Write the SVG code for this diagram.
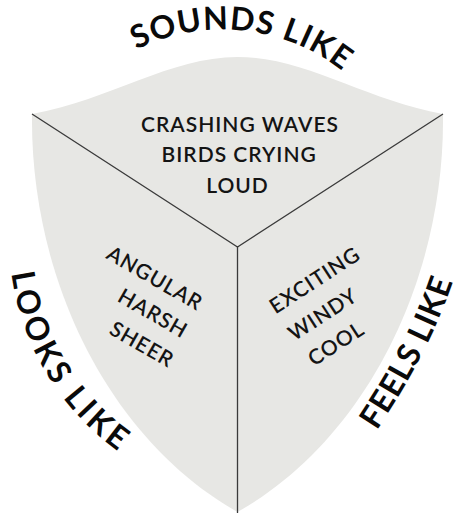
<svg xmlns="http://www.w3.org/2000/svg" width="453" height="514" viewBox="0 0 453 514">
  <style>
    .face { fill: #e7e7e4; stroke: none; }
    .edge { stroke: #3a3a3a; stroke-width: 1.3; fill: none; }
    .inner { font-family: Lato, "Open Sans", sans-serif; font-size: 21px; font-weight: 600; fill: #141414; text-anchor: middle; letter-spacing: 1px; }
    .label { font-family: Lato, "Open Sans", sans-serif; font-size: 32px; font-weight: 700; fill: #0a0a0a; text-anchor: middle; }
  </style>
  <defs>
    <path id="arcSounds" d="M36,170 A194,194 0 0,1 416,210"/>
    <path id="arcLooks" d="M22.9,153.7 A263,263 0 0,0 232.2,498"/>
    <path id="arcFeels" d="M362,452 Q432,353 458,266"/>
  </defs>

  <g id="face-top">
    <path class="face" d="M32,114 C110,100 170,57 237.5,57 C305,57 365,100 443,114 L237.5,247 Z"/>
    <text class="inner" x="240" y="131.7">CRASHING WAVES</text>
    <text class="inner" x="239.2" y="161.7">BIRDS CRYING</text>
    <text class="inner" x="237.5" y="192.5">LOUD</text>
  </g>

  <g id="face-left">
    <path class="face" d="M32,114 L237.5,247 L237.5,512 C110,440 30,280 32,114 Z"/>
    <text class="inner" transform="translate(151.2,284.5) rotate(30)">ANGULAR</text>
    <text class="inner" transform="translate(149.3,319.7) rotate(30)">HARSH</text>
    <text class="inner" transform="translate(138.3,350.7) rotate(30)">SHEER</text>
  </g>

  <g id="face-right">
    <path class="face" d="M443,114 C445,280 365,440 237.5,512 L237.5,247 Z"/>
    <text class="inner" transform="translate(318.8,286.3) rotate(-33)">EXCITING</text>
    <text class="inner" transform="translate(326.8,320.5) rotate(-33)">WINDY</text>
    <text class="inner" transform="translate(340,349.7) rotate(-33)">COOL</text>
  </g>

  <g id="edges">
    <path class="edge" d="M32,114 L237.5,247 L443,114"/>
    <path class="edge" d="M237.5,247 L237.5,513"/>
  </g>

  <g id="label-sounds">
    <text class="label" letter-spacing="1"><textPath href="#arcSounds" startOffset="50%">SOUNDS LIKE</textPath></text>
  </g>
  <g id="label-looks">
    <text class="label" letter-spacing="3.5"><textPath href="#arcLooks" startOffset="50%">LOOKS LIKE</textPath></text>
  </g>
  <g id="label-feels">
    <text class="label" letter-spacing="0.5"><textPath href="#arcFeels" startOffset="110">FEELS LIKE</textPath></text>
  </g>
</svg>
